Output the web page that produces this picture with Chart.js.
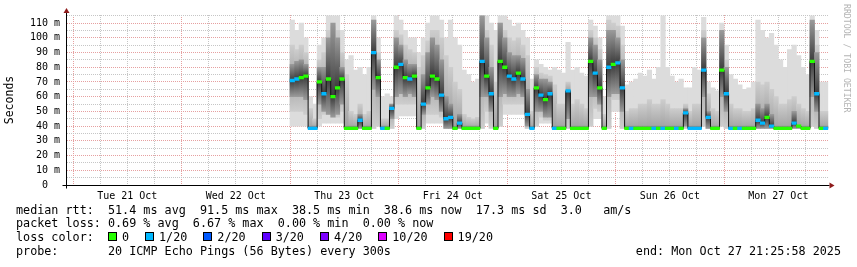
<!DOCTYPE html>
<html><head><meta charset="utf-8">
<script src="https://cdn.jsdelivr.net/npm/chart.js@4.4.1/dist/chart.umd.min.js"></script>
<style>
html,body{margin:0;padding:0;background:#fff;}
body{width:857px;height:267px;overflow:hidden;position:relative;}
#c{position:absolute;left:0;top:0;}
.t{position:absolute;font-family:"DejaVu Sans Mono",monospace;font-size:11.75px;color:#000;white-space:pre;line-height:13.9px;}
#leg{left:16px;top:203.5px;}
#end{right:16px;top:245.3px;}
#wm{position:absolute;left:842px;top:4px;writing-mode:vertical-rl;font-family:"DejaVu Sans Mono",monospace;font-size:8.2px;color:#b4b4b4;line-height:10px;white-space:pre;}
.sw{display:inline-block;width:7px;height:7px;border:1px solid #000;vertical-align:baseline;margin-right:5px;}
.lb{display:inline-block;margin-right:16px;}
</style></head>
<body>
<canvas id="c" width="857" height="267"></canvas>
<div class="t" id="leg"></div>
<div class="t" id="end"></div>
<div id="wm">RRDTOOL / TOBI OETIKER</div>
<script>
// ---- data (hours since Tue 21 Oct 00:00, one bin per hour starting at firstHour) ----
const firstHour = 48;
const days = ['Tue 21 Oct','Wed 22 Oct','Thu 23 Oct','Fri 24 Oct','Sat 25 Oct','Sun 26 Oct','Mon 27 Oct'];
const median = [
 71,72,73,74,38.5,38.5,70,62,72,60,
 66,72,38.5,38.5,38.5,44,38.5,38.5,90,73,
 38.5,38.5,52,80,82,73,72,74,38.5,55,
 66,74,72,61,45,46,38.5,42,38.5,38.5,
 38.5,38.5,84,74,62,38.5,84,80,74,72,
 76,72,48,38.5,66,61,58,62,38.5,38.5,
 38.5,64,38.5,38.5,38.5,38.5,84,76,66,38.5,
 80,82,83,66,38.5,38.5,38.5,38.5,38.5,38.5,
 38.5,38.5,38.5,38.5,38.5,38.5,38.5,49,38.5,38.5,
 38.5,78,46,38.5,38.5,78,62,38.5,38.5,38.5,
 38.5,38.5,38.5,44,42,46,40,38.5,38.5,38.5,
 38.5,42,40,38.5,38.5,84,62,38.5,38.5];
const loss = [
 1,1,0,0,1,1,0,1,0,0,
 0,0,0,0,0,1,0,0,1,0,
 1,0,1,0,1,0,1,0,0,1,
 0,0,0,1,1,1,0,1,0,0,
 0,0,1,0,1,0,0,0,1,1,
 0,1,1,1,0,1,0,1,1,0,
 0,1,0,0,0,0,0,1,0,0,
 1,0,1,1,0,1,0,0,0,0,
 1,0,1,0,0,1,0,1,1,1,
 1,1,1,0,0,0,1,1,0,1,
 0,0,0,1,1,0,1,0,0,0,
 0,1,0,0,0,0,1,0,1];
const lightLo = [
 40,40,40,40,38.5,38.5,40,42,42,42,
 42,42,38.5,38.5,38.5,38.5,38.5,38.5,38.5,40,
 38.5,38.5,38.5,45,47,47,47,47,38.5,38.5,
 42,42,42,42,38.5,38.5,38.5,38.5,38.5,38.5,
 38.5,38.5,38.5,42,40,38.5,40,48,48,48,
 48,48,38.5,38.5,40,42,42,42,38.5,38.5,
 38.5,38.5,38.5,38.5,38.5,38.5,40,45,45,38.5,
 38.5,50,50,38.5,38.5,38.5,38.5,38.5,38.5,38.5,
 38.5,38.5,38.5,38.5,38.5,38.5,38.5,38.5,38.5,38.5,
 38.5,40,38.5,38.5,38.5,40,38.5,38.5,38.5,38.5,
 38.5,38.5,38.5,38.5,38.5,38.5,38.5,38.5,38.5,38.5,
 38.5,38.5,38.5,38.5,38.5,40,38.5,38.5,38.5];
const lightHi = [
 112,105,110,100,60,55,95,100,115,115,
 115,105,85,88,78,80,75,80,115,100,
 60,62,60,115,112,105,100,100,90,100,
 110,115,115,112,100,112,100,95,78,75,
 70,72,115,115,110,105,115,115,112,108,
 110,105,100,72,85,82,80,78,80,78,
 76,97,78,80,76,74,112,108,100,60,
 115,115,115,108,68,70,72,76,74,78,
 72,80,115,80,74,70,72,66,66,80,
 78,114,70,66,64,110,95,75,72,68,
 65,66,70,112,105,100,103,95,85,80,
 92,95,88,80,75,115,105,70,70];
const midLo = [
 50,50,50,48,38.5,38.5,45,48,48,46,
 46,50,38.5,38.5,38.5,38.5,38.5,38.5,38.5,40,
 38.5,38.5,38.5,55,55,55,55,55,38.5,38.5,
 48,48,48,46,38.5,38.5,38.5,38.5,38.5,38.5,
 38.5,38.5,38.5,50,38.5,38.5,40,55,55,55,
 55,55,38.5,38.5,40,46,44,44,38.5,38.5,
 38.5,38.5,38.5,38.5,38.5,38.5,40,52,50,38.5,
 38.5,58,58,38.5,38.5,38.5,38.5,38.5,38.5,38.5,
 38.5,38.5,38.5,38.5,38.5,38.5,38.5,38.5,38.5,38.5,
 38.5,40,38.5,38.5,38.5,40,38.5,38.5,38.5,38.5,
 38.5,38.5,38.5,38.5,38.5,38.5,38.5,38.5,38.5,38.5,
 38.5,38.5,38.5,38.5,38.5,40,38.5,38.5,38.5];
const midHi = [
 95,92,95,90,52,45,85,90,105,108,
 105,90,75,50,48,55,48,50,112,90,
 45,45,55,105,102,95,92,90,80,88,
 98,105,105,100,88,80,70,65,48,46,
 45,46,115,105,95,70,110,105,100,98,
 100,95,88,50,80,76,75,74,68,55,
 55,70,55,58,55,52,105,100,92,48,
 112,110,108,95,50,52,52,55,55,58,
 55,55,58,55,52,52,52,55,50,55,
 55,105,62,52,50,105,85,55,52,52,
 50,50,52,70,68,70,65,60,55,55,
 58,60,55,52,50,110,95,50,50];
const darkLo = [
 60,60,60,58,38.5,38.5,55,50,48,46,
 48,55,38.5,38.5,38.5,38.5,38.5,38.5,65,60,
 38.5,38.5,45,60,62,60,62,60,38.5,48,
 55,60,58,50,38.5,38.5,38.5,38.5,38.5,38.5,
 38.5,38.5,60,60,50,38.5,60,62,60,60,
 62,60,40,38.5,50,50,46,46,38.5,38.5,
 38.5,45,38.5,38.5,38.5,38.5,60,60,55,38.5,
 60,62,62,50,38.5,38.5,38.5,38.5,38.5,38.5,
 38.5,38.5,38.5,38.5,38.5,38.5,38.5,40,38.5,38.5,
 38.5,60,38.5,38.5,38.5,60,50,38.5,38.5,38.5,
 38.5,38.5,38.5,38.5,38.5,38.5,38.5,38.5,38.5,38.5,
 38.5,38.5,38.5,38.5,38.5,60,50,38.5,38.5];
const darkHi = [
 82,84,85,82,40,40,80,80,100,110,
 100,80,40,40,40,48,40,40,112,85,
 40,40,55,100,95,85,82,82,40,75,
 90,100,95,85,60,55,40,48,40,40,
 40,40,115,100,80,40,110,100,90,88,
 88,86,65,40,75,72,72,70,40,40,
 40,64,40,40,40,40,100,95,85,40,
 105,105,100,85,40,40,40,40,40,40,
 40,40,40,40,40,40,40,52,40,40,
 40,100,50,40,40,105,80,40,40,40,
 40,40,40,55,52,55,48,40,40,40,
 40,50,40,40,40,112,90,40,40];
const lossLabels = ['0','1/20','2/20','3/20','4/20','10/20','19/20'];
const lossColors = ['#26ff00','#00b8ff','#0059ff','#5e00ff','#7e00ff','#dd00ff','#ff0000'];
const statsRtt = 'median rtt:  51.4 ms avg  91.5 ms max  38.5 ms min  38.6 ms now  17.3 ms sd  3.0   am/s';
const statsLoss = 'packet loss: 0.69 % avg  6.67 % max  0.00 % min  0.00 % now';
const probeText = 'probe:       20 ICMP Echo Pings (56 Bytes) every 300s';
const endText = 'end: Mon Oct 27 21:25:58 2025';

// ---- legend text ----
let legLine3 = 'loss color:  ';
lossLabels.forEach((l, i) => {
  legLine3 += '<span class="sw" style="background:' + lossColors[i] + '"></span><span class="lb">' + l + '</span>';
});
document.getElementById('leg').innerHTML = statsRtt + '\n' + statsLoss + '\n' + legLine3 + '\n' + probeText;
document.getElementById('end').textContent = endText;

// ---- chart ----
const xs = median.map((_, i) => firstHour + i + 0.5);
const band = (lo, hi) => xs.map((x, i) => ({x: x, y: [lo[i], hi[i]]}));
const gridHours = []; for (let h = 0; h <= 162; h += 6) gridHours.push(h);
const yGrid = []; for (let v = 0; v <= 115; v += 5) yGrid.push(v);
const RED = '#e6a0a0', GRAY = '#c6c6c6';

// smoke shading: darkest at the median, fading to the band edges
function smokeFill(lo, hi, edge, core, flat) {
  return c => {
    const ch = c.chart, y = ch.scales && ch.scales.y, i = c.dataIndex;
    if (!y || i === undefined) return flat;
    const top = y.getPixelForValue(hi[i]), bot = y.getPixelForValue(lo[i]);
    const m = y.getPixelForValue(median[i]);
    if (!isFinite(top) || !isFinite(bot) || !isFinite(m) || bot - top < 2) return flat;
    let t = (m - top) / (bot - top); t = Math.min(0.98, Math.max(0.02, t));
    const g = ch.ctx.createLinearGradient(0, top, 0, bot);
    g.addColorStop(0, edge); g.addColorStop(t, core); g.addColorStop(1, edge);
    return g;
  };
}

const axisDeco = {
  id: 'axisDeco',
  afterDraw(chart) {
    const {ctx, chartArea: a} = chart;
    const x0 = Math.round(a.left) - 0.5, y0 = Math.round(a.bottom) + 0.5;
    ctx.save();
    ctx.strokeStyle = '#000'; ctx.lineWidth = 1;
    ctx.beginPath();
    ctx.moveTo(x0, y0 + 3); ctx.lineTo(x0, a.top - 3);
    ctx.moveTo(x0 - 4, y0); ctx.lineTo(a.right + 1, y0);
    ctx.stroke();
    ctx.fillStyle = '#8e1b1b';
    ctx.beginPath(); ctx.moveTo(x0 - 3, a.top - 2); ctx.lineTo(x0 + 3, a.top - 2); ctx.lineTo(x0, a.top - 7); ctx.closePath(); ctx.fill();
    ctx.beginPath(); ctx.moveTo(a.right + 1, y0 - 3); ctx.lineTo(a.right + 1, y0 + 3); ctx.lineTo(a.right + 6, y0); ctx.closePath(); ctx.fill();
    ctx.restore();
  }
};

new Chart(document.getElementById('c'), {
  data: {
    datasets: [
      {type: 'bar', label: 'median', order: 0,
       data: xs.map((x, i) => ({x: x, y: [median[i] - 0.9, median[i] + 0.9]})),
       backgroundColor: c => lossColors[loss[c.dataIndex]] || lossColors[0]},
      {type: 'line', label: 'median line', order: 1,
       data: xs.map((x, i) => ({x: x, y: median[i]})),
       stepped: 'middle', borderColor: '#151515', borderWidth: 1, pointRadius: 0, fill: false},
      {type: 'bar', label: 'dark', order: 2, data: band(darkLo, darkHi),
       backgroundColor: smokeFill(darkLo, darkHi, '#9a9a9a', '#3c3c3c', '#6a6a6a')},
      {type: 'bar', label: 'mid', order: 3, data: band(midLo, midHi),
       backgroundColor: smokeFill(midLo, midHi, '#cdcdcd', '#a2a2a2', '#bcbcbc')},
      {type: 'bar', label: 'light', order: 4, data: band(lightLo, lightHi), backgroundColor: '#dcdcdc'}
    ]
  },
  options: {
    responsive: false, animation: false, devicePixelRatio: 1,
    layout: {padding: {left: 0, top: 15, right: 28.5, bottom: 60}},
    datasets: {bar: {grouped: false, barPercentage: 1, categoryPercentage: 1, borderWidth: 0}},
    plugins: {legend: {display: false}, tooltip: {enabled: false}},
    scales: {
      x: {
        type: 'linear', min: -1.33, max: 167.1, offset: false,
        afterBuildTicks: s => { s.ticks = gridHours.map(v => ({value: v})); },
        afterFit: s => { s.height = 22; },
        ticks: {autoSkip: false, maxRotation: 0, padding: 5, color: '#000',
          font: {family: 'DejaVu Sans Mono', size: 10},
          callback: v => { const r = Math.round(v); return r % 24 === 12 ? days[(r - 12) / 24] : ''; }},
        grid: {offset: false, drawTicks: false, lineWidth: 1,
          color: c => (c.tick && Math.round(c.tick.value) % 24 === 0) ? RED : GRAY},
        border: {display: false, dash: [1, 1]}
      },
      y: {
        type: 'linear', min: 0, max: 115.5,
        afterBuildTicks: s => { s.ticks = yGrid.map(v => ({value: v})); },
        afterFit: s => { s.width = 67; },
        title: {display: true, text: 'Seconds', color: '#000', padding: {top: 3, bottom: 0},
          font: {family: 'DejaVu Sans Mono', size: 11.5}},
        ticks: {autoSkip: false, padding: 7, color: '#000',
          font: {family: 'DejaVu Sans Mono', size: 10},
          callback: v => v === 0 ? '0  ' : (v % 10 === 0 ? v + ' m' : '')},
        grid: {drawTicks: false, lineWidth: 1,
          color: c => (c.tick && c.tick.value % 10 === 0) ? RED : GRAY},
        border: {display: false, dash: [1, 1]}
      }
    }
  },
  plugins: [axisDeco]
});
</script></body></html>
